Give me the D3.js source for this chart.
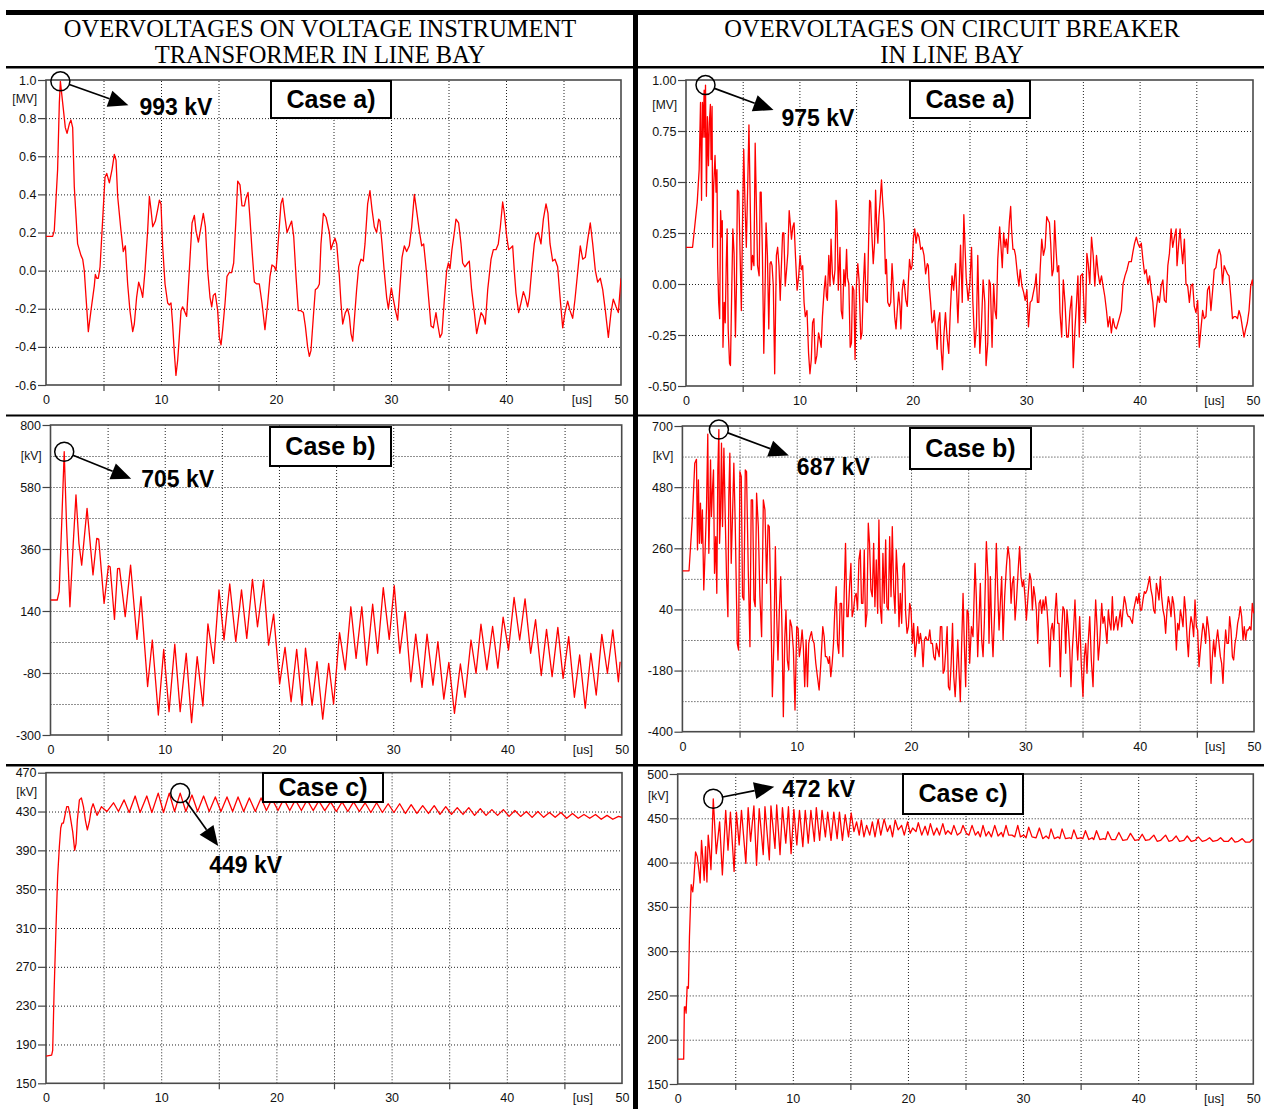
<!DOCTYPE html>
<html>
<head>
<meta charset="utf-8">
<script src="https://cdn.jsdelivr.net/npm/d3@7"></script>
<style>
  body { margin: 0; background: #fff; }
  svg { display: block; }
</style>
</head>
<body>
<div id="chart"></div>
<script>
// time axis, us
const timeTicks = [0, 10, 20, 30, 40, 50];
const timeGrid = [5, 10, 15, 20, 25, 30, 35, 40, 45];
const timeMinorTicks = [5, 15, 25, 35, 45];

// y axes
const vtAGrid = [-0.6, -0.4, -0.2, 0.0, 0.2, 0.4, 0.6, 0.8, 1.0];
const cbAGrid = [-0.5, -0.25, 0.0, 0.25, 0.5, 0.75, 1.0];
const vtBGrid = [-300, -190, -80, 30, 140, 250, 360, 470, 580, 690, 800];
const vtBLabels = [-300, -80, 140, 360, 580, 800];
const cbBGrid = [-400, -290, -180, -70, 40, 150, 260, 370, 480, 590, 700];
const cbBLabels = [-400, -180, 40, 260, 480, 700];
const vtCGrid = [150, 190, 230, 270, 310, 350, 390, 430, 470];
const cbCGrid = [150, 200, 250, 300, 350, 400, 450, 500];

// annotated peaks [t, value] and their labels
const peaks = [[1.25, 0.993], [1.72, 0.975], [1.2, 705], [3.19, 687], [11.65, 449], [3.09, 472]];
const peakLabels = ["993 kV", "975 kV", "705 kV", "687 kV", "449 kV", "472 kV"];
const caseLabels = ["Case a)", "Case a)", "Case b)", "Case b)", "Case c)", "Case c)"];

// voltage instrument transformer, case a) [us, MV]
const vtCaseA = [[0,0.18],[0.58,0.18],[0.72,0.21],[1.01,0.53],[1.16,0.88],[1.25,0.993],[1.45,0.88],[1.68,0.75],[1.83,0.72],[2.03,0.77],[2.17,0.79],[2.32,0.75],[2.46,0.44],[2.75,0.14],[3.04,0.08],[3.19,0.06],[3.33,0.0],[3.48,-0.14],[3.68,-0.32],[3.91,-0.21],[4.2,-0.08],[4.29,-0.02],[4.41,-0.04],[4.55,-0.04],[4.7,0.02],[4.93,0.27],[5.13,0.49],[5.28,0.51],[5.51,0.46],[5.74,0.53],[5.94,0.61],[6.09,0.58],[6.23,0.39],[6.52,0.21],[6.72,0.1],[6.9,0.13],[7.1,-0.07],[7.3,-0.21],[7.54,-0.32],[7.68,-0.28],[7.88,-0.14],[8.06,-0.06],[8.26,-0.1],[8.41,-0.14],[8.61,0.0],[8.84,0.21],[8.99,0.39],[9.13,0.32],[9.28,0.23],[9.51,0.26],[9.71,0.32],[9.86,0.37],[10.0,0.35],[10.14,0.13],[10.35,-0.07],[10.58,-0.17],[10.72,-0.18],[10.87,-0.17],[11.01,-0.28],[11.16,-0.43],[11.3,-0.55],[11.45,-0.47],[11.59,-0.35],[11.74,-0.21],[11.88,-0.19],[12.09,-0.22],[12.23,-0.24],[12.46,0.0],[12.7,0.25],[12.9,0.29],[13.04,0.21],[13.25,0.15],[13.48,0.23],[13.68,0.3],[13.86,0.23],[14.06,0.0],[14.26,-0.14],[14.41,-0.19],[14.55,-0.13],[14.72,-0.12],[14.93,-0.21],[15.07,-0.35],[15.22,-0.39],[15.36,-0.31],[15.57,-0.17],[15.74,-0.03],[15.94,-0.01],[16.14,-0.01],[16.32,0.04],[16.52,0.27],[16.67,0.47],[16.87,0.45],[17.04,0.34],[17.25,0.34],[17.39,0.38],[17.57,0.41],[17.74,0.27],[17.91,0.11],[18.12,-0.06],[18.32,-0.07],[18.55,-0.07],[18.78,-0.17],[19.04,-0.31],[19.28,-0.17],[19.48,-0.03],[19.65,0.03],[19.86,0.02],[20.0,0.0],[20.23,0.18],[20.43,0.35],[20.58,0.38],[20.78,0.28],[20.96,0.2],[21.16,0.23],[21.36,0.26],[21.54,0.18],[21.74,-0.03],[21.94,-0.21],[22.17,-0.21],[22.38,-0.22],[22.55,-0.29],[22.75,-0.4],[22.9,-0.45],[23.04,-0.42],[23.25,-0.24],[23.42,-0.1],[23.62,-0.09],[23.77,-0.07],[23.91,0.14],[24.12,0.3],[24.35,0.28],[24.64,0.2],[24.78,0.11],[24.93,0.14],[25.13,0.17],[25.28,0.14],[25.51,-0.03],[25.65,-0.17],[25.8,-0.28],[26.03,-0.22],[26.23,-0.2],[26.38,-0.24],[26.52,-0.33],[26.67,-0.37],[26.81,-0.26],[27.01,-0.1],[27.19,0.02],[27.39,0.06],[27.59,0.05],[27.74,0.14],[27.97,0.35],[28.17,0.42],[28.35,0.32],[28.55,0.23],[28.75,0.2],[28.93,0.27],[29.04,0.26],[29.22,0.14],[29.42,-0.01],[29.62,-0.14],[29.77,-0.2],[29.91,-0.14],[30.03,-0.09],[30.2,-0.15],[30.43,-0.22],[30.58,-0.26],[30.78,-0.08],[30.96,0.07],[31.16,0.13],[31.36,0.1],[31.59,0.13],[31.8,0.23],[32.03,0.4],[32.17,0.34],[32.46,0.21],[32.67,0.13],[32.84,0.14],[33.04,0.02],[33.28,-0.15],[33.48,-0.29],[33.68,-0.3],[33.91,-0.22],[34.06,-0.28],[34.26,-0.35],[34.43,-0.33],[34.64,-0.15],[34.84,0.0],[34.99,0.04],[35.13,0.01],[35.3,0.11],[35.51,0.2],[35.65,0.27],[35.88,0.25],[36.09,0.14],[36.23,0.04],[36.43,0.02],[36.67,0.04],[36.81,0.05],[37.01,-0.1],[37.25,-0.22],[37.45,-0.33],[37.62,-0.28],[37.83,-0.22],[38.03,-0.24],[38.2,-0.28],[38.41,-0.1],[38.7,0.06],[38.9,0.11],[39.13,0.11],[39.33,0.14],[39.51,0.23],[39.71,0.36],[39.86,0.3],[40.06,0.18],[40.23,0.11],[40.43,0.12],[40.58,0.13],[40.72,0.0],[40.87,-0.12],[41.1,-0.22],[41.3,-0.17],[41.51,-0.11],[41.68,-0.14],[41.88,-0.19],[42.03,-0.14],[42.23,0.0],[42.46,0.14],[42.61,0.19],[42.81,0.2],[43.04,0.14],[43.25,0.27],[43.48,0.35],[43.65,0.3],[43.83,0.14],[44.06,0.05],[44.26,0.06],[44.49,0.02],[44.7,-0.14],[44.93,-0.3],[45.13,-0.22],[45.36,-0.16],[45.57,-0.21],[45.8,-0.25],[46.0,-0.15],[46.23,-0.01],[46.46,0.13],[46.67,0.06],[46.9,0.07],[47.1,0.16],[47.33,0.25],[47.54,0.14],[47.77,0.0],[47.97,-0.06],[48.2,-0.04],[48.41,-0.1],[48.64,-0.21],[48.9,-0.35],[49.13,-0.22],[49.33,-0.15],[49.57,-0.19],[49.77,-0.22],[50.0,-0.04]];

// circuit breaker, case a) [us, MV]
const cbCaseA = [[0,0.18],[0.58,0.18],[0.99,0.4],[1.16,0.56],[1.28,0.89],[1.37,0.41],[1.45,0.89],[1.51,0.72],[1.6,0.95],[1.66,0.72],[1.72,0.975],[1.8,0.43],[1.89,0.82],[1.98,0.58],[2.06,0.79],[2.15,0.88],[2.21,0.61],[2.3,0.87],[2.35,0.18],[2.44,0.48],[2.56,0.63],[2.65,0.45],[2.73,0.56],[2.79,0.1],[2.88,-0.09],[2.97,-0.17],[3.05,0.36],[3.14,0.23],[3.2,0.31],[3.26,-0.31],[3.37,-0.09],[3.46,-0.19],[3.55,0.1],[3.63,0.27],[3.72,-0.22],[3.84,-0.39],[3.92,-0.4],[4.04,-0.01],[4.13,0.27],[4.24,0.15],[4.36,-0.26],[4.45,-0.01],[4.53,0.46],[4.65,0.45],[4.8,0.07],[4.88,-0.13],[5.0,0.36],[5.09,0.66],[5.2,0.4],[5.32,0.18],[5.44,0.48],[5.55,0.78],[5.64,0.48],[5.76,0.07],[5.87,0.14],[5.99,0.09],[6.1,0.69],[6.22,0.35],[6.31,0.09],[6.45,0.04],[6.54,0.45],[6.63,0.45],[6.74,0.14],[6.86,-0.34],[6.98,0.0],[7.06,0.3],[7.18,0.14],[7.3,-0.22],[7.41,0.1],[7.5,0.11],[7.59,0.09],[7.7,-0.01],[7.82,-0.44],[7.97,0.14],[8.08,0.18],[8.2,0.09],[8.31,-0.08],[8.4,0.07],[8.52,0.25],[8.63,0.25],[8.75,-0.01],[8.87,0.07],[8.98,0.15],[9.1,0.36],[9.22,0.28],[9.3,0.22],[9.42,0.28],[9.53,0.3],[9.65,0.14],[9.8,-0.03],[9.94,0.04],[10.06,0.14],[10.17,0.07],[10.29,0.09],[10.41,-0.09],[10.52,-0.16],[10.67,-0.13],[10.81,-0.34],[10.93,-0.44],[11.05,-0.37],[11.16,-0.19],[11.28,-0.17],[11.4,-0.39],[11.54,-0.35],[11.69,-0.24],[11.8,-0.27],[11.92,-0.31],[12.03,-0.16],[12.18,-0.03],[12.3,0.04],[12.38,-0.06],[12.47,-0.08],[12.59,0.14],[12.7,-0.01],[12.79,0.22],[12.91,0.05],[13.02,0.0],[13.14,0.07],[13.23,0.41],[13.31,0.35],[13.43,-0.03],[13.58,0.18],[13.69,-0.13],[13.81,-0.17],[13.92,0.07],[14.04,-0.01],[14.16,0.17],[14.24,0.03],[14.36,0.0],[14.48,-0.31],[14.59,-0.29],[14.68,-0.01],[14.8,-0.03],[14.91,-0.37],[15.03,0.0],[15.15,0.1],[15.26,0.02],[15.41,-0.27],[15.52,-0.24],[15.64,-0.01],[15.76,0.15],[15.87,-0.08],[15.99,-0.09],[16.1,0.2],[16.19,0.41],[16.28,0.4],[16.4,0.23],[16.51,0.1],[16.63,0.2],[16.72,0.46],[16.8,0.31],[16.92,0.2],[17.01,0.33],[17.12,0.41],[17.24,0.51],[17.35,0.4],[17.47,0.3],[17.59,0.05],[17.67,0.12],[17.79,-0.09],[17.94,-0.11],[18.05,-0.09],[18.17,0.1],[18.28,-0.01],[18.4,-0.16],[18.52,-0.22],[18.63,-0.13],[18.75,-0.04],[18.87,-0.11],[18.95,-0.22],[19.07,-0.03],[19.19,0.02],[19.27,-0.01],[19.39,-0.08],[19.51,-0.11],[19.59,-0.01],[19.71,0.12],[19.83,0.07],[19.94,0.09],[20.06,0.23],[20.17,0.27],[20.29,0.2],[20.41,0.25],[20.55,0.23],[20.7,0.17],[20.84,0.18],[20.99,0.14],[21.13,0.05],[21.28,0.1],[21.37,0.09],[21.45,-0.01],[21.57,-0.09],[21.69,-0.19],[21.8,-0.18],[21.89,-0.13],[22.01,-0.22],[22.15,-0.32],[22.24,-0.19],[22.38,-0.14],[22.5,-0.32],[22.62,-0.42],[22.73,-0.26],[22.88,-0.14],[23.02,-0.26],[23.17,-0.34],[23.31,-0.13],[23.46,0.04],[23.6,-0.03],[23.77,0.1],[23.98,-0.19],[24.21,0.19],[24.36,-0.09],[24.5,0.34],[24.71,0.03],[24.88,-0.08],[25.03,0.0],[25.18,0.18],[25.29,-0.08],[25.47,-0.31],[25.61,-0.21],[25.73,0.14],[25.91,-0.34],[26.05,-0.21],[26.2,0.02],[26.35,-0.09],[26.46,-0.4],[26.61,-0.29],[26.73,0.02],[26.84,0.0],[26.99,-0.31],[27.13,0.0],[27.25,-0.13],[27.37,-0.17],[27.49,0.12],[27.66,0.28],[27.78,0.18],[27.89,0.08],[28.01,0.25],[28.13,0.18],[28.25,0.22],[28.36,0.15],[28.51,0.3],[28.63,0.38],[28.71,0.27],[28.83,0.17],[28.95,0.17],[29.06,0.14],[29.24,0.04],[29.36,-0.01],[29.47,0.07],[29.62,-0.01],[29.77,-0.04],[29.91,-0.08],[30.06,-0.03],[30.2,-0.21],[30.35,-0.09],[30.5,-0.08],[30.64,-0.04],[30.79,0.0],[30.88,0.05],[30.99,-0.09],[31.11,-0.09],[31.23,0.07],[31.37,0.22],[31.52,0.14],[31.67,0.18],[31.81,0.33],[31.96,0.31],[32.05,0.3],[32.16,0.2],[32.28,0.04],[32.4,0.07],[32.51,0.31],[32.63,0.17],[32.75,0.06],[32.87,0.09],[32.98,-0.14],[33.13,-0.26],[33.27,0.02],[33.42,-0.09],[33.57,-0.26],[33.71,-0.26],[33.86,-0.13],[34.01,-0.06],[34.15,-0.41],[34.3,-0.22],[34.44,-0.09],[34.56,0.04],[34.68,-0.26],[34.8,0.04],[34.97,0.05],[35.12,-0.14],[35.23,-0.19],[35.35,0.15],[35.47,0.1],[35.61,0.0],[35.76,0.23],[35.91,0.14],[36.05,-0.01],[36.2,0.14],[36.35,0.05],[36.49,0.0],[36.64,0.04],[36.78,-0.01],[36.93,-0.06],[37.08,-0.13],[37.22,-0.21],[37.37,-0.16],[37.51,-0.24],[37.66,-0.17],[37.81,-0.21],[37.95,-0.22],[38.1,-0.19],[38.25,-0.16],[38.39,-0.13],[38.54,0.0],[38.71,0.04],[38.89,0.07],[39.06,0.11],[39.27,0.11],[39.42,0.16],[39.56,0.2],[39.71,0.23],[39.85,0.2],[40.0,0.18],[40.15,0.2],[40.29,0.12],[40.44,0.05],[40.58,0.07],[40.73,0.0],[40.88,0.04],[41.02,-0.03],[41.17,-0.09],[41.32,-0.21],[41.46,-0.13],[41.61,-0.06],[41.75,-0.09],[41.9,-0.01],[42.05,0.02],[42.19,-0.08],[42.34,-0.09],[42.49,0.09],[42.63,0.15],[42.78,0.27],[42.92,0.18],[43.07,0.23],[43.22,0.27],[43.3,0.09],[43.45,0.2],[43.57,0.27],[43.68,0.18],[43.8,0.1],[43.95,0.22],[44.09,0.0],[44.24,-0.01],[44.39,-0.09],[44.53,-0.01],[44.68,0.0],[44.82,-0.11],[44.97,-0.14],[45.12,-0.08],[45.26,-0.31],[45.41,-0.22],[45.56,-0.13],[45.7,-0.17],[45.85,-0.16],[45.99,-0.03],[46.14,-0.01],[46.29,-0.13],[46.43,-0.04],[46.58,0.07],[46.73,0.08],[46.87,0.14],[47.02,0.17],[47.16,0.14],[47.31,0.0],[47.46,0.09],[47.6,0.07],[47.75,0.05],[47.89,0.04],[48.04,-0.06],[48.19,-0.17],[48.33,-0.16],[48.48,-0.16],[48.63,-0.17],[48.77,-0.13],[48.92,-0.16],[49.06,-0.21],[49.21,-0.26],[49.36,-0.22],[49.5,-0.19],[49.65,-0.13],[49.8,-0.01],[49.94,0.02],[50.0,-0.01]];

// voltage instrument transformer, case b) [us, kV]
const vtCaseB = [[0,179],[0.59,179],[0.76,209],[0.97,439],[1.2,705],[1.41,439],[1.7,155],[1.99,380],[2.23,552],[2.49,380],[2.73,303],[3.2,504],[3.72,268],[4.05,398],[4.22,395],[4.69,167],[5.07,300],[5.22,297],[5.6,110],[5.87,290],[6.04,291],[6.54,120],[7.01,303],[7.57,39],[7.92,191],[8.5,-128],[8.91,37],[9.44,-229],[9.91,4],[10.38,-217],[10.88,22],[11.35,-217],[11.88,-10],[12.35,-256],[12.84,-22],[13.34,-197],[13.78,94],[14.28,-46],[14.75,215],[15.19,37],[15.69,236],[16.22,31],[16.72,215],[17.18,43],[17.68,252],[18.12,84],[18.65,250],[19.09,19],[19.53,129],[20.06,-119],[20.53,11],[21.06,-182],[21.55,4],[22.02,-194],[22.32,8],[22.9,-194],[23.33,-40],[23.83,-244],[24.35,-46],[24.78,-190],[25.3,63],[25.8,-69],[26.29,155],[26.75,-28],[27.25,155],[27.68,-52],[28.2,164],[28.64,-10],[29.13,223],[29.65,39],[30.09,230],[30.58,-10],[31.04,138],[31.54,-111],[31.97,58],[32.52,-131],[32.96,58],[33.48,-123],[33.91,31],[34.43,-173],[34.87,-42],[35.36,-223],[35.88,-48],[36.29,-166],[36.81,37],[37.25,-81],[37.68,93],[38.2,-69],[38.7,85],[39.16,-63],[39.62,118],[40.09,2],[40.58,188],[41.07,37],[41.54,183],[42.03,-10],[42.46,109],[42.96,-89],[43.42,75],[43.91,-93],[44.41,82],[44.87,-99],[45.36,49],[45.86,-166],[46.32,-16],[46.81,-205],[47.3,-10],[47.77,-158],[48.26,57],[48.75,-81],[49.22,73],[49.71,-111],[49.86,-40]];

// circuit breaker, case b) [us, kV]
const cbCaseB = [[0,179],[0.58,179],[0.88,374],[1.08,566],[1.23,580],[1.32,254],[1.4,506],[1.49,278],[1.58,422],[1.67,278],[1.75,398],[1.87,110],[1.99,254],[2.11,410],[2.22,671],[2.31,242],[2.4,410],[2.46,578],[2.54,374],[2.63,470],[2.72,542],[2.81,170],[2.92,302],[3.01,98],[3.1,542],[3.19,687],[3.25,278],[3.33,374],[3.42,638],[3.51,338],[3.63,620],[3.74,386],[3.86,158],[3.98,14],[4.06,446],[4.15,602],[4.27,206],[4.39,386],[4.5,566],[4.62,350],[4.8,-82],[4.91,-106],[5.03,536],[5.15,518],[5.26,86],[5.38,74],[5.5,542],[5.61,536],[5.76,182],[5.91,-94],[6.02,434],[6.14,434],[6.26,74],[6.37,50],[6.49,458],[6.64,338],[6.78,86],[6.93,-58],[7.08,434],[7.22,398],[7.37,134],[7.49,344],[7.6,338],[7.72,86],[7.87,-274],[8.01,-70],[8.13,266],[8.25,14],[8.36,-142],[8.48,38],[8.6,158],[8.71,-22],[8.83,-346],[8.95,-70],[9.06,38],[9.18,-142],[9.3,-178],[9.42,2],[9.56,-22],[9.71,-106],[9.85,-322],[10.0,-22],[10.12,-28],[10.23,-130],[10.35,-94],[10.47,-34],[10.58,-94],[10.7,-238],[10.82,-70],[10.94,-238],[11.05,-82],[11.17,-58],[11.29,-40],[11.4,-70],[11.52,-82],[11.67,-154],[11.81,-202],[11.96,-250],[12.11,-154],[12.28,-22],[12.4,-58],[12.51,-130],[12.63,-130],[12.78,-154],[12.87,-130],[12.98,-202],[13.1,-154],[13.22,-82],[13.33,38],[13.45,122],[13.57,-82],[13.68,-118],[13.8,62],[13.92,62],[14.04,-130],[14.15,98],[14.27,278],[14.39,14],[14.5,14],[14.62,122],[14.74,206],[14.85,14],[14.97,38],[15.09,86],[15.2,98],[15.32,38],[15.44,218],[15.56,254],[15.67,62],[15.79,62],[15.91,254],[16.02,-22],[16.14,26],[16.26,350],[16.37,278],[16.49,110],[16.61,86],[16.73,278],[16.84,50],[16.96,218],[17.08,26],[17.19,362],[17.31,50],[17.43,-10],[17.54,242],[17.66,62],[17.78,290],[17.89,50],[18.01,38],[18.13,302],[18.25,86],[18.36,338],[18.48,110],[18.6,26],[18.71,254],[18.83,158],[18.95,-22],[19.06,98],[19.18,-10],[19.3,194],[19.42,206],[19.53,26],[19.65,-46],[19.77,-22],[19.88,62],[20.0,38],[20.12,-82],[20.23,-10],[20.35,-130],[20.47,-82],[20.58,-22],[20.7,-82],[20.82,-46],[20.94,-82],[21.05,-166],[21.17,-70],[21.29,-58],[21.4,-70],[21.52,-70],[21.64,-34],[21.75,-82],[21.87,-82],[21.99,-130],[22.11,-142],[22.22,-82],[22.34,-106],[22.46,-130],[22.57,-22],[22.69,-22],[22.81,-190],[22.92,-178],[23.04,-106],[23.16,-22],[23.27,-238],[23.39,-250],[23.51,-154],[23.63,-10],[23.74,-202],[23.86,-274],[23.98,-178],[24.09,-70],[24.31,-292],[24.43,-82],[24.55,98],[24.66,-82],[24.78,-238],[24.9,38],[25.01,26],[25.13,-154],[25.28,-22],[25.42,-58],[25.6,206],[25.71,86],[25.83,-130],[25.95,2],[26.06,134],[26.18,-70],[26.3,-130],[26.41,-10],[26.59,284],[26.73,158],[26.82,-82],[26.94,158],[27.06,-34],[27.17,-130],[27.32,38],[27.46,278],[27.58,110],[27.7,-34],[27.81,62],[27.93,158],[28.05,-70],[28.19,86],[28.34,194],[28.48,266],[28.63,218],[28.75,62],[28.86,134],[28.98,158],[29.1,2],[29.21,62],[29.39,194],[29.5,266],[29.62,158],[29.74,122],[29.85,146],[29.97,86],[30.09,2],[30.23,86],[30.38,170],[30.5,146],[30.61,38],[30.73,122],[30.85,86],[30.96,38],[31.08,-82],[31.2,62],[31.31,74],[31.43,26],[31.55,74],[31.66,38],[31.78,86],[31.9,38],[32.01,-34],[32.13,-166],[32.24,-34],[32.36,-10],[32.48,-70],[32.59,26],[32.71,98],[32.83,-10],[32.94,-10],[33.06,-202],[33.18,-34],[33.29,50],[33.41,38],[33.53,-118],[33.64,38],[33.76,-22],[33.88,-106],[33.99,-238],[34.11,-106],[34.23,-22],[34.34,74],[34.46,-58],[34.58,-142],[34.75,14],[34.9,-166],[35.04,-274],[35.16,-130],[35.28,-82],[35.39,-190],[35.51,-70],[35.63,14],[35.77,-142],[35.92,-238],[36.03,-70],[36.15,74],[36.27,-22],[36.38,-142],[36.5,-82],[36.68,62],[36.79,-10],[36.91,14],[37.03,-34],[37.14,-82],[37.26,38],[37.38,-10],[37.49,-34],[37.61,86],[37.73,-34],[37.84,-10],[37.96,14],[38.08,-34],[38.19,2],[38.31,38],[38.43,-22],[38.54,38],[38.66,86],[38.78,62],[38.89,26],[39.01,14],[39.13,14],[39.24,2],[39.36,-10],[39.48,38],[39.59,62],[39.71,86],[39.83,62],[39.94,98],[40.06,38],[40.17,38],[40.29,74],[40.41,104],[40.52,98],[40.64,110],[40.76,134],[40.87,158],[40.99,110],[41.11,86],[41.22,38],[41.34,26],[41.46,134],[41.57,110],[41.69,74],[41.81,158],[41.92,86],[42.04,38],[42.16,14],[42.27,-46],[42.39,38],[42.51,86],[42.62,62],[42.74,14],[42.86,86],[42.97,62],[43.09,2],[43.21,-106],[43.32,-10],[43.44,-34],[43.56,38],[43.67,14],[43.79,-22],[43.91,86],[44.02,38],[44.14,-58],[44.26,-130],[44.37,-34],[44.49,14],[44.61,-10],[44.72,-58],[44.84,74],[44.96,-22],[45.07,-34],[45.19,-166],[45.31,-106],[45.42,-58],[45.54,-10],[45.66,-34],[45.77,-82],[45.89,14],[46.01,-22],[46.12,-70],[46.24,-226],[46.36,-130],[46.47,-70],[46.59,-130],[46.71,-70],[46.82,-34],[46.94,-82],[47.06,-130],[47.17,-154],[47.29,-226],[47.41,-106],[47.52,-34],[47.64,-82],[47.76,-82],[47.87,14],[47.99,-34],[48.11,-130],[48.22,-142],[48.34,-82],[48.45,-58],[48.57,-10],[48.69,14],[48.8,50],[48.92,14],[49.04,-70],[49.15,-22],[49.27,-70],[49.39,-34],[49.5,-34],[49.62,-22],[49.74,-34],[49.85,62],[49.97,26]];

// voltage instrument transformer, case c) [us, kV]
const vtCaseC = [[0,178],[0.49,179],[0.58,184],[0.7,243],[0.87,311],[1.01,363],[1.16,394],[1.28,413],[1.39,418],[1.51,418],[1.68,428],[1.8,435],[1.94,435],[2.09,426],[2.32,409],[2.49,390],[2.61,397],[2.72,421],[2.9,442],[3.07,444],[3.25,435],[3.42,421],[3.59,411],[3.77,420],[3.94,433],[4.09,438],[4.23,433],[4.43,426],[4.61,430],[4.81,435],[4.99,433],[5.28,430],[5.86,439],[6.29,430],[6.78,442],[7.22,429],[7.74,446],[8.17,429],[8.75,446],[9.19,429],[9.74,449],[10.2,429],[10.7,449],[11.16,430],[11.65,449],[12.14,430],[12.67,447],[13.16,430],[13.68,446],[14.17,430],[14.7,445],[15.19,430],[15.71,445],[16.2,430],[16.67,445],[17.16,430],[17.65,444],[18.17,430],[18.67,444],[19.13,431],[19.62,443],[20.14,431],[20.64,443],[21.16,431],[21.65,442],[22.17,431],[22.67,442],[23.19,431],[23.68,441],[24.2,431],[24.7,440],[25.2,430],[25.7,440],[26.2,430],[26.7,440],[27.2,430],[27.7,439],[28.2,429],[28.7,439],[29.2,429],[29.7,438],[30.2,429],[30.7,438],[31.2,428],[31.7,437],[32.2,428],[32.7,436],[33.2,428],[33.7,436],[34.2,427],[34.7,435],[35.2,427],[35.7,434],[36.2,427],[36.7,434],[37.2,426],[37.7,433],[38.2,426],[38.7,432],[39.2,426],[39.7,432],[40.2,425],[40.7,431],[41.2,425],[41.7,430],[42.2,424],[42.7,430],[43.2,424],[43.7,429],[44.2,424],[44.7,429],[45.2,423],[45.7,428],[46.2,423],[46.7,427],[47.2,423],[47.7,427],[48.2,422],[48.7,426],[49.2,422],[49.7,425],[50,424]];

// circuit breaker, case c) [us, kV]
const cbCaseC = [[0,178],[0.52,178],[0.58,237],[0.67,237],[0.73,230],[0.82,260],[0.93,258],[1.02,316],[1.17,375],[1.31,367],[1.4,380],[1.55,412],[1.69,407],[1.84,392],[1.95,377],[2.07,425],[2.19,403],[2.3,380],[2.42,418],[2.54,378],[2.65,431],[2.77,414],[2.89,392],[3.09,472],[3.35,410],[3.64,446],[3.88,386],[4.17,459],[4.37,414],[4.58,457],[4.9,390],[5.1,457],[5.34,420],[5.54,459],[5.92,399],[6.12,462],[6.33,424],[6.62,464],[6.85,397],[7.08,461],[7.43,409],[7.58,463],[7.96,403],[8.1,464],[8.45,416],[8.6,465],[8.89,409],[9.1,462],[9.39,422],[9.62,463],[9.85,410],[10.09,460],[10.35,420],[10.58,459],[10.87,418],[11.08,459],[11.34,422],[11.57,459],[11.87,424],[12.04,462],[12.33,425],[12.54,459],[12.83,429],[13.03,457],[13.32,425],[13.56,457],[13.85,427],[14.05,457],[14.31,425],[14.55,454],[14.84,429],[15.07,456],[15.31,435],[15.54,446],[15.77,431],[15.95,448],[16.18,429],[16.41,442],[16.68,431],[16.91,446],[17.14,429],[17.41,449],[17.64,431],[17.93,449],[18.22,435],[18.45,442],[18.66,429],[18.89,448],[19.15,437],[19.45,442],[19.68,431],[19.97,446],[20.2,433],[20.41,439],[20.7,435],[20.9,445],[21.2,431],[21.49,441],[21.72,431],[21.95,444],[22.24,431],[22.51,439],[22.74,431],[23.03,444],[23.27,432],[23.47,436],[23.76,432],[23.99,442],[24.29,431],[24.58,434],[24.78,442],[25.07,433],[25.3,431],[25.57,442],[25.86,431],[26.09,435],[26.29,429],[26.52,442],[26.78,430],[27.01,435],[27.25,429],[27.54,442],[27.83,430],[28.12,434],[28.26,429],[28.52,442],[28.75,431],[29.04,431],[29.28,429],[29.54,442],[29.77,429],[30.06,431],[30.26,428],[30.49,440],[30.78,429],[31.13,428],[31.42,439],[31.71,427],[32.0,430],[32.23,427],[32.43,438],[32.72,427],[33.04,429],[33.19,427],[33.39,438],[33.68,427],[34.03,428],[34.2,427],[34.41,437],[34.7,427],[34.99,428],[35.19,427],[35.42,436],[35.71,426],[36.0,428],[36.14,426],[36.38,436],[36.67,426],[37.01,427],[37.16,426],[37.36,435],[37.68,426],[38.03,426],[38.32,434],[38.67,425],[39.04,426],[39.33,433],[39.71,425],[40.06,426],[40.35,432],[40.64,425],[40.99,426],[41.36,431],[41.65,424],[41.94,425],[42.38,431],[42.67,424],[42.96,425],[43.3,430],[43.59,424],[43.97,425],[44.26,430],[44.61,424],[44.93,425],[45.22,429],[45.57,424],[45.86,425],[46.2,428],[46.49,424],[46.87,425],[47.16,428],[47.45,424],[47.83,424],[48.12,428],[48.41,423],[48.7,424],[49.04,427],[49.33,423],[49.68,423],[49.91,426],[50.0,426]];

let fmt1 = v => v.toFixed(1);
let fmt2 = v => v.toFixed(2);
let fmtInt = v => String(v);

// layout of the six panels (pixel boxes of the plot frames)
const panels = [
  { data: vtCaseA, yDomain: [-0.6, 1.0], grid: vtAGrid, labels: vtAGrid, fmt: fmt1, unit: "[MV]", unitAt: 0.9,
    left: 46, right: 621, top: 80, bottom: 385, box: [271, 81, 120, 37], tip: [68, 24], txt: [79, 34] },
  { data: cbCaseA, yDomain: [-0.5, 1.0], grid: cbAGrid, labels: cbAGrid, fmt: fmt2, unit: "[MV]", unitAt: 0.875,
    left: 686, right: 1253, top: 80, bottom: 386, box: [910, 81, 120, 37], tip: [68, 25], txt: [76, 41] },
  { data: vtCaseB, yDomain: [-300, 800], grid: vtBGrid, labels: vtBLabels, fmt: fmtInt, unit: "[kV]", unitAt: 690,
    left: 50.5, right: 621.7, top: 425, bottom: 735, box: [270, 427, 121, 39], tip: [67, 27], txt: [77, 35] },
  { data: cbCaseB, yDomain: [-400, 700], grid: cbBGrid, labels: cbBLabels, fmt: fmtInt, unit: "[kV]", unitAt: 590,
    left: 682.4, right: 1254, top: 426, bottom: 731.7, box: [910, 428, 121, 41], tip: [70, 26], txt: [78, 45] },
  { data: vtCaseC, yDomain: [150, 470], grid: vtCGrid, labels: vtCGrid, fmt: fmtInt, unit: "[kV]", unitAt: 450,
    left: 46, right: 622, top: 772.7, bottom: 1083.3, box: [263, 773, 120, 29], tip: [38, 53], txt: [29, 80] },
  { data: cbCaseC, yDomain: [150, 500], grid: cbCGrid, labels: cbCGrid, fmt: fmtInt, unit: "[kV]", unitAt: 475,
    left: 677.7, right: 1253.3, top: 774, bottom: 1084, box: [903, 774, 120, 40], tip: [61, -12], txt: [69, -2] }
];

const W = 1264, H = 1109;
const labelFont = "'Liberation Sans', Arial, sans-serif";
let svg = d3.select("#chart").append("svg")
    .attr("width", W)
    .attr("height", H);

svg.append("rect").attr("width", W).attr("height", H).attr("fill", "#fff");

// page rules
svg.append("rect").attr("x", 6).attr("y", 10).attr("width", W - 6).attr("height", 5).attr("fill", "#000");
svg.append("rect").attr("x", 6).attr("y", 66).attr("width", W - 6).attr("height", 2.5).attr("fill", "#000");
svg.append("rect").attr("x", 6).attr("y", 414.5).attr("width", W - 6).attr("height", 2).attr("fill", "#000");
svg.append("rect").attr("x", 6).attr("y", 764).attr("width", W - 6).attr("height", 2.5).attr("fill", "#000");
svg.append("rect").attr("x", 633).attr("y", 10).attr("width", 5).attr("height", H - 10).attr("fill", "#000");

// column titles
let titles = [
  { x: 320, lines: ["OVERVOLTAGES ON VOLTAGE INSTRUMENT", "TRANSFORMER IN LINE BAY"] },
  { x: 952, lines: ["OVERVOLTAGES ON CIRCUIT BREAKER", "IN LINE BAY"] }
];
titles.forEach(t => {
  t.lines.forEach((line, i) => {
    svg.append("text")
      .attr("x", t.x)
      .attr("y", 37 + i * 26)
      .attr("text-anchor", "middle")
      .attr("font-family", "'Liberation Serif', 'Times New Roman', serif")
      .attr("font-size", 24.5)
      .attr("fill", "#000")
      .text(line);
  });
});

panels.forEach((p, i) => drawPanel(svg, p, i));

function styleGrid(g) {
  g.select(".domain").remove();
  g.selectAll("line")
    .attr("stroke", "#222")
    .attr("stroke-width", 1)
    .attr("stroke-dasharray", "1,2");
}

function styleLabels(g) {
  g.select(".domain").remove();
  g.selectAll("text")
    .attr("font-family", labelFont)
    .attr("font-size", 12.5)
    .attr("fill", "#111");
  g.selectAll("line").attr("stroke", "#444").attr("stroke-width", 1.2);
}

function drawPanel(svg, p, i) {
  let x = d3.scaleLinear().domain([0, 50]).range([p.left, p.right]);
  let y = d3.scaleLinear().domain(p.yDomain).range([p.bottom, p.top]);
  let w = p.right - p.left;
  let h = p.bottom - p.top;
  let g = svg.append("g");

  // dotted grid
  let innerY = p.grid.filter(v => v > p.yDomain[0] && v < p.yDomain[1]);
  g.append("g")
    .attr("transform", `translate(${p.left},0)`)
    .call(d3.axisLeft(y).tickValues(innerY).tickSize(-w).tickFormat(""))
    .call(styleGrid);
  g.append("g")
    .attr("transform", `translate(0,${p.bottom})`)
    .call(d3.axisBottom(x).tickValues(timeGrid).tickSize(h).tickFormat(""))
    .call(gg => {
      styleGrid(gg);
      gg.selectAll("line").attr("y2", -h);
    });

  // y labels
  g.append("g")
    .attr("transform", `translate(${p.left},0)`)
    .call(d3.axisLeft(y).tickValues(p.labels).tickFormat(p.fmt).tickSize(8).tickPadding(1.5))
    .call(styleLabels);

  g.append("text")
    .attr("x", p.left - 9)
    .attr("y", y(p.unitAt))
    .attr("dy", "0.32em")
    .attr("text-anchor", "end")
    .attr("font-family", labelFont)
    .attr("font-size", 12)
    .attr("fill", "#111")
    .text(p.unit);

  // x labels and minor ticks
  g.append("g")
    .attr("transform", `translate(0,${p.bottom})`)
    .call(d3.axisBottom(x).tickValues(timeTicks).tickSize(0).tickPadding(10))
    .call(styleLabels);
  g.append("g")
    .attr("transform", `translate(0,${p.bottom})`)
    .call(d3.axisBottom(x).tickValues(timeMinorTicks).tickSize(6).tickFormat(""))
    .call(styleLabels);

  g.append("text")
    .attr("x", x(46.6))
    .attr("y", p.bottom + 19)
    .attr("text-anchor", "middle")
    .attr("font-family", labelFont)
    .attr("font-size", 12.5)
    .attr("fill", "#111")
    .text("[us]");

  // frame
  g.append("rect")
    .attr("x", p.left)
    .attr("y", p.top)
    .attr("width", w)
    .attr("height", h)
    .attr("fill", "none")
    .attr("stroke", "#4a4a4a")
    .attr("stroke-width", 1.6);

  // waveform
  let clipId = "clip" + i;
  g.append("clipPath").attr("id", clipId)
    .append("rect")
    .attr("x", p.left).attr("y", p.top - 2)
    .attr("width", w).attr("height", h + 2);

  let line = d3.line()
    .x(d => x(d[0]))
    .y(d => y(d[1]));

  g.append("path")
    .datum(p.data)
    .attr("clip-path", `url(#${clipId})`)
    .attr("fill", "none")
    .attr("stroke", "#ff0000")
    .attr("stroke-width", 1.3)
    .attr("stroke-linejoin", "round")
    .attr("d", line);

  // case box
  let b = p.box;
  g.append("rect")
    .attr("x", b[0]).attr("y", b[1])
    .attr("width", b[2]).attr("height", b[3])
    .attr("fill", "#fff")
    .attr("stroke", "#000")
    .attr("stroke-width", 2);
  g.append("text")
    .attr("x", b[0] + b[2] / 2)
    .attr("y", b[1] + b[3] / 2 + 8)
    .attr("text-anchor", "middle")
    .attr("font-family", labelFont)
    .attr("font-weight", "bold")
    .attr("font-size", 25)
    .attr("fill", "#000")
    .text(caseLabels[i]);

  // peak annotation: circle, arrow, value
  let pk = peaks[i];
  let cx = x(pk[0]), cy = y(pk[1]);
  let r = 9.5;
  g.append("circle")
    .attr("cx", cx).attr("cy", cy).attr("r", r)
    .attr("fill", "none")
    .attr("stroke", "#000")
    .attr("stroke-width", 1.5);

  let tx = cx + p.tip[0], ty = cy + p.tip[1];
  let len = Math.hypot(p.tip[0], p.tip[1]);
  let ux = p.tip[0] / len, uy = p.tip[1] / len;
  let headLen = 20, headW = 8.5;
  let bx = tx - ux * headLen, by = ty - uy * headLen;
  g.append("line")
    .attr("x1", cx + ux * r).attr("y1", cy + uy * r)
    .attr("x2", bx).attr("y2", by)
    .attr("stroke", "#000")
    .attr("stroke-width", 1.7);
  g.append("path")
    .attr("d", `M${tx},${ty}L${bx - uy * headW},${by + ux * headW}L${bx + uy * headW},${by - ux * headW}Z`)
    .attr("fill", "#000");

  g.append("text")
    .attr("x", cx + p.txt[0])
    .attr("y", cy + p.txt[1])
    .attr("font-family", labelFont)
    .attr("font-weight", "bold")
    .attr("font-size", 23)
    .attr("fill", "#000")
    .text(peakLabels[i]);
}
</script>
</body>
</html>
